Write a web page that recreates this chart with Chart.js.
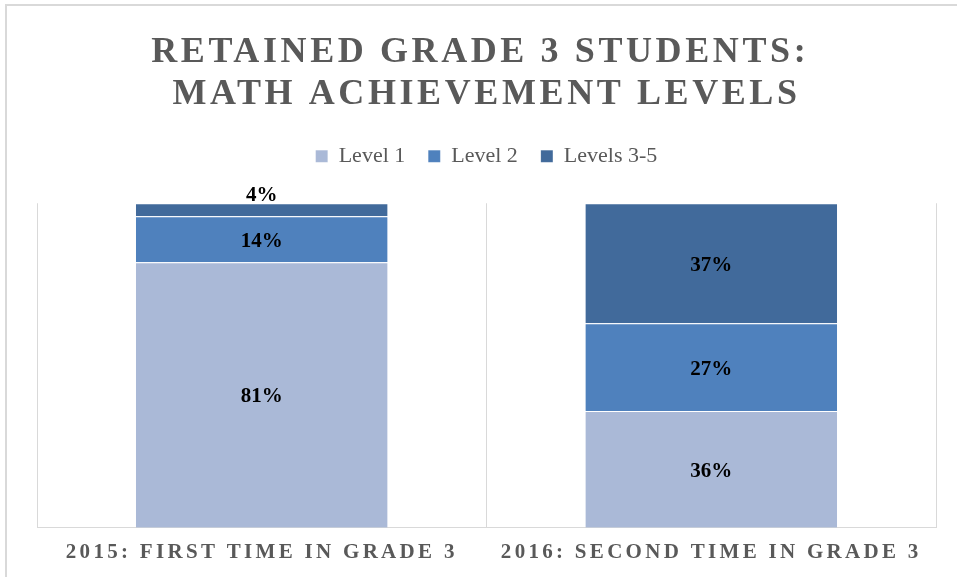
<!DOCTYPE html>
<html>
<head>
<meta charset="utf-8">
<script src="https://cdn.jsdelivr.net/npm/chart.js@4.4.1/dist/chart.umd.min.js"></script>
<style>
  html, body { margin: 0; padding: 0; background: #fff; }
  #wrap { width: 957px; height: 577px; }
</style>
</head>
<body>
<div id="wrap"><canvas id="myChart" width="957" height="577"></canvas></div>
<script>
// data
var categories = ['2015: FIRST TIME IN GRADE 3', '2016: SECOND TIME IN GRADE 3']
var level1 = [81, 36]
var level2 = [14, 27]
var level35 = [4, 37]
var seriesNames = ['Level 1', 'Level 2', 'Levels 3-5']
var seriesColors = ['#AAB9D7', '#4F81BD', '#416A9B']

var serif = "'Liberation Serif', 'Times New Roman', serif"

// Excel-style 100% stacking
var totals = categories.map((c, i) => level1[i] + level2[i] + level35[i])
function share(arr) {
  return arr.map((v, i) => (v / totals[i]) * 100)
}
var raw = [level1, level2, level35]

// letter spacing for title and category labels
function spaced(box, fn, px) {
  if (!box || box['_sp_' + fn]) return
  const orig = box[fn]
  box[fn] = function () {
    const c = this.ctx
    c.save()
    c.letterSpacing = px
    orig.apply(this, arguments)
    c.restore()
  }
  box['_sp_' + fn] = true
}

const framePlugin = {
  id: 'frame',
  beforeLayout(chart) {
    // extra gap under the legend
    const lg = chart.legend
    if (lg && !lg._extra) {
      const fit = lg.fit
      lg.fit = function () {
        fit.apply(this, arguments)
        this.height += 26
      }
      lg._extra = true
    }
  },
  beforeDraw(chart) {
    spaced(chart.titleBlock, 'draw', '3.6px')
    spaced(chart.scales.x, 'drawLabels', '3.3px')
    const c = chart.ctx
    c.save()
    c.strokeStyle = '#d9d9d9'
    c.lineWidth = 2
    c.beginPath()
    c.moveTo(6, chart.height)
    c.lineTo(6, 5)
    c.lineTo(chart.width, 5)
    c.stroke()
    c.restore()
  },
}

const labelPlugin = {
  id: 'segLabels',
  afterDatasetsDraw(chart) {
    const c = chart.ctx
    c.save()
    c.font = 'bold 21px ' + serif
    c.fillStyle = '#000'
    c.textAlign = 'center'
    chart.data.datasets.forEach((ds, di) => {
      const meta = chart.getDatasetMeta(di)
      meta.data.forEach((bar, i) => {
        const txt = raw[di][i] + '%'
        const h = Math.abs(bar.base - bar.y)
        if (h < 22) {
          c.textBaseline = 'bottom'
          c.fillText(txt, bar.x, bar.y + 3)
        } else {
          c.textBaseline = 'middle'
          c.fillText(txt, bar.x, (bar.y + bar.base) / 2 + 2)
        }
      })
    })
    c.restore()
  },
}

let ctx = document.getElementById('myChart').getContext('2d')
let myChart = new Chart(ctx, {
  type: 'bar',
  data: {
    labels: categories,
    datasets: seriesNames.map((name, k) => ({
      label: name,
      data: share(raw[k]),
      backgroundColor: seriesColors[k],
      borderColor: 'rgba(255,255,255,0.35)',
      borderWidth: { top: 1 },
      borderSkipped: false,
      barPercentage: 0.56,
      categoryPercentage: 1,
    })),
  },
  options: {
    responsive: false,
    animation: false,
    layout: { padding: { left: 37, right: 21, top: 0, bottom: 0 } },
    scales: {
      x: {
        stacked: true,
        offset: true,
        grid: { display: true, color: '#d9d9d9', lineWidth: 1, drawTicks: false, offset: true },
        border: { display: true, color: '#d9d9d9', width: 1 },
        ticks: {
          color: '#595959',
          font: { family: serif, size: 21, weight: 'bold' },
          padding: 12,
          maxRotation: 0,
          autoSkip: false,
        },
      },
      y: {
        stacked: true,
        display: false,
        min: 0,
        max: 100,
      },
    },
    plugins: {
      title: {
        display: true,
        text: ['RETAINED GRADE 3 STUDENTS: ', 'MATH ACHIEVEMENT LEVELS'],
        color: '#595959',
        font: { family: serif, size: 36, weight: 'bold', lineHeight: 1.17 },
        padding: { top: 32, bottom: 6 },
      },
      legend: {
        display: true,
        labels: {
          color: '#595959',
          font: { family: serif, size: 22 },
          boxWidth: 12,
          boxHeight: 12,
          padding: 23,
        },
      },
      tooltip: { enabled: false },
    },
  },
  plugins: [framePlugin, labelPlugin],
})
</script>
</body>
</html>
